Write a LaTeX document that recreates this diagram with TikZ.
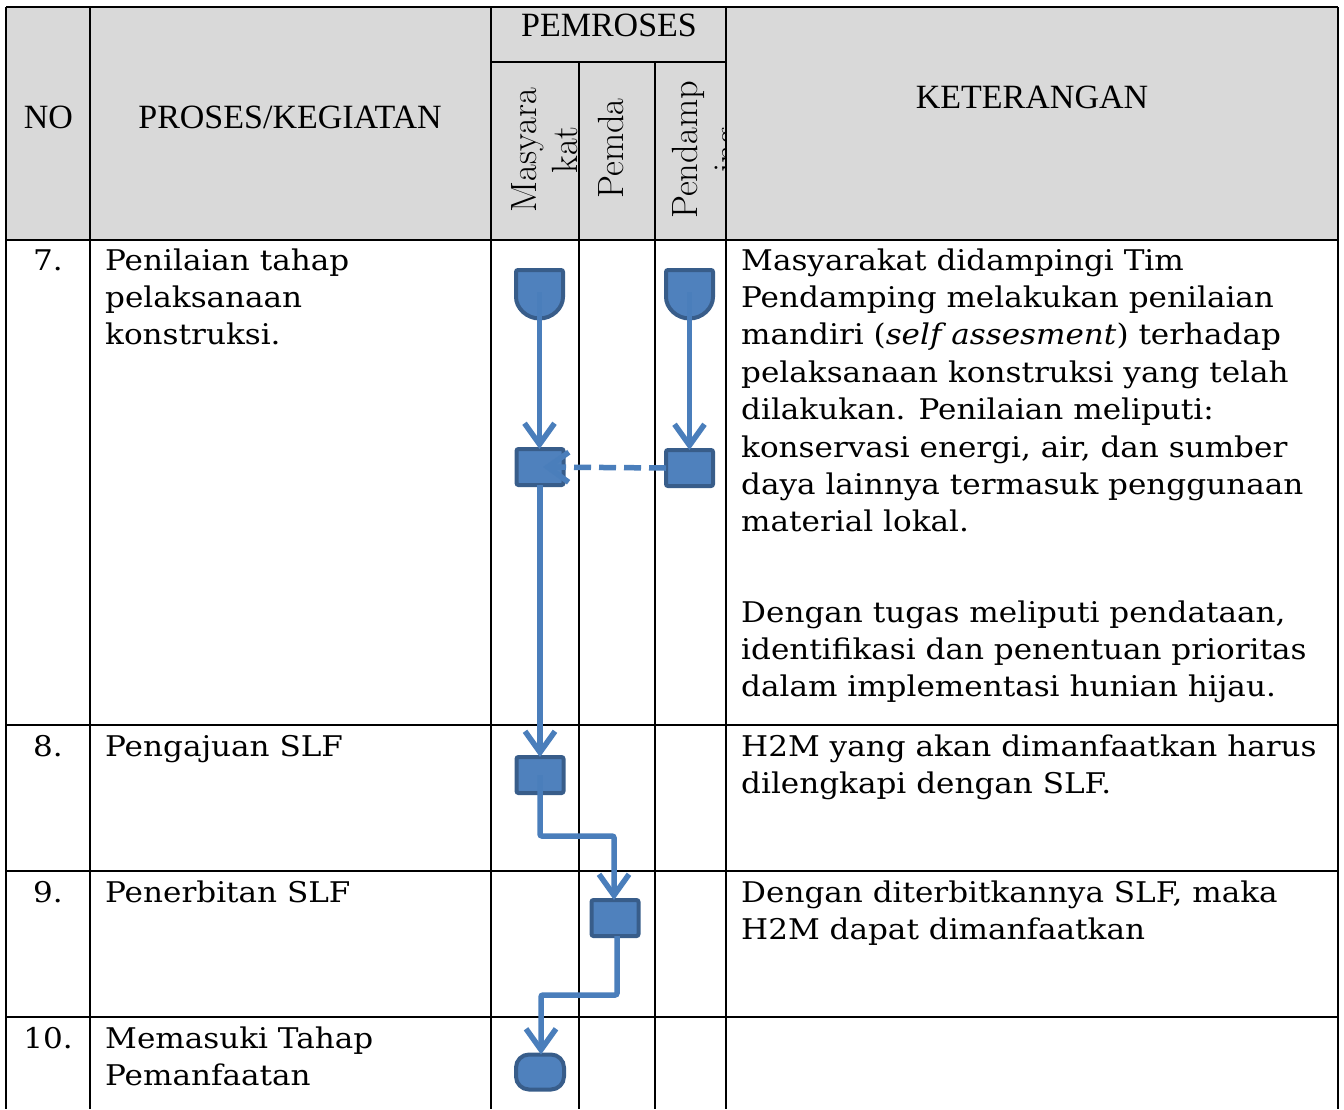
\documentclass[tikz,border=0pt]{standalone}
\usepackage{fontspec}
\newfontfamily\bodyfont[FakeStretch=1.09]{DejaVu Serif}
\newfontfamily\hdfont{Liberation Serif}
\usetikzlibrary{arrows.meta}
\definecolor{fillc}{HTML}{4F81BD}
\definecolor{bdr}{HTML}{385D8A}
\definecolor{arr}{HTML}{4A7EBB}
\definecolor{hdgray}{HTML}{D9D9D9}
\begin{document}
\begin{tikzpicture}[x=1pt,y=-1pt,
  tbl/.style={line width=2.5pt, black},
  procbox/.style={draw=bdr, fill=fillc, line width=4pt, minimum width=47pt, minimum height=36pt, rounded corners=2pt, inner sep=0pt, outer sep=0pt},
  termbox/.style={procbox, minimum width=48pt, minimum height=35pt, rounded corners=13pt},
  shield/.style={draw=bdr, fill=fillc, line width=4pt, rounded corners=2pt},
  flow/.style={draw=arr, line width=5.5pt, -{Straight Barb[length=21pt,width=30pt]}, rounded corners=2pt},
  dflow/.style={flow, dash pattern=on 17pt off 8pt},
  body/.style={font=\bodyfont\fontsize{28.5}{37.4}\selectfont, align=left, inner sep=0pt, anchor=base west},
  numtxt/.style={font=\bodyfont\fontsize{28.5}{37.4}\selectfont, inner sep=0pt, anchor=base},
  hd/.style={font=\hdfont\fontsize{34}{40}\selectfont, inner sep=0pt, anchor=base},
  rot/.style={font=\fontsize{36.5}{41}\selectfont, inner sep=0pt, rotate=90, align=center}
]
\useasboundingbox (0,0) rectangle (1344,1109);
% header background
\fill[hdgray] (6,7) rectangle (1338,240);
% table lines
\draw[tbl] (6,7) -- (1338,7);
\draw[tbl] (6,240) -- (1338,240);
\draw[tbl] (491,62) -- (726,62);
\draw[tbl] (6,725) -- (1338,725);
\draw[tbl] (6,871) -- (1338,871);
\draw[tbl] (6,1017) -- (1338,1017);
\draw[tbl] (6,7) -- (6,1109);
\draw[tbl] (90,7) -- (90,1109);
\draw[tbl] (491,7) -- (491,1109);
\draw[tbl] (579,62) -- (579,1109);
\draw[tbl] (655,62) -- (655,1109);
\draw[tbl] (726,7) -- (726,1109);
\draw[tbl] (1338,7) -- (1338,1109);
% header texts
\node[hd] (hno) at (48.5,128) {NO};
\node[hd] (hpk) at (290,128) {PROSES/KEGIATAN};
\node[hd] (hket) at (1032,108) {KETERANGAN};
\node[hd] (hpem) at (609,36) {PEMROSES};
\node[rot] (hmas) at (545,150) {Masyara\\kat};
\node[rot, anchor=base] (hpda) at (623,148.5) {Pemda};
\begin{scope}
\clip (655,62) rectangle (726,240);
\node[rot] (hpdp) at (709,150) {Pendamp\\ing};
\end{scope}
% body texts (base anchor = baseline of the last line)
\node[numtxt] (n7) at (48,270) {7.};
\node[numtxt] (n8) at (48,756) {8.};
\node[numtxt] (n9) at (48,902) {9.};
\node[numtxt] (n10) at (48,1048) {10.};
\node[body] (p7) at (105,344.8) {Penilaian tahap\\pelaksanaan\\konstruksi.};
\node[body] (p8) at (105,756) {Pengajuan SLF};
\node[body] (p9) at (105,902) {Penerbitan SLF};
\node[body] (p10) at (105,1085.4) {Memasuki Tahap\\Pemanfaatan};
\node[body] (k7a) at (741,531.8) {Masyarakat didampingi Tim\\Pendamping melakukan penilaian\\mandiri (\textit{self assesment}) terhadap\\pelaksanaan konstruksi yang telah\\dilakukan. Penilaian meliputi:\\konservasi energi, air, dan sumber\\daya lainnya termasuk penggunaan\\material lokal.};
\node[body] (k7b) at (741,696.8) {Dengan tugas meliputi pendataan,\\identifikasi dan penentuan prioritas\\dalam implementasi hunian hijau.};
\node[body] (k8) at (741,793.4) {H2M yang akan dimanfaatkan harus\\dilengkapi dengan SLF.};
\node[body] (k9) at (741,939.4) {Dengan diterbitkannya SLF, maka\\H2M dapat dimanfaatkan};
% flow shapes
\draw[shield] (516,270) -- (563,270) -- (563,295) arc[start angle=0,end angle=180,radius=23.5] -- cycle;
\coordinate (s1) at (539.5,292);
\draw[shield] (666,270) -- (713,270) -- (713,295) arc[start angle=0,end angle=180,radius=23.5] -- cycle;
\coordinate (s2) at (689.5,292);
\node[procbox] (b1) at (540,467) {};
\node[procbox] (b2) at (689.5,468) {};
\node[procbox] (b3) at (540,775) {};
\node[procbox] (b4) at (615,918) {};
\node[termbox] (t1) at (540,1072) {};
\coordinate (k1) at (0,836);
\coordinate (k2) at (0,995);
% connectors
\draw[flow] (s1) -- (s1 |- b1.north);
\draw[flow] (s2) -- (s2 |- b2.north);
\draw[dflow] (b2.west) -- ([xshift=3pt]b1.center);
\draw[flow] (b1.south) -- (b3.north);
\draw[flow] (b3.center) -- (b3 |- k1) -- ([xshift=-1pt]b4 |- k1) -- ([xshift=-1pt]b4.north);
\draw[flow] ([xshift=2pt]b4.south) -- ([xshift=2pt]b4 |- k2) -- ([xshift=1pt]t1 |- k2) -- ([xshift=1pt]t1.north);
\end{tikzpicture}
\end{document}
